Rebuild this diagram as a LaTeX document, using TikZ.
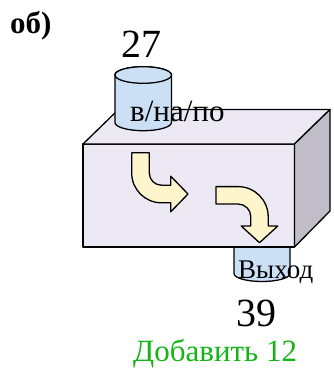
\documentclass[tikz,border=0pt]{standalone}
\usepackage{fontspec}
\setmainfont{Liberation Serif}
\usetikzlibrary{positioning}
\definecolor{boxfront}{RGB}{236,232,244}
\definecolor{boxside}{RGB}{192,188,200}
\definecolor{drumblue}{RGB}{204,224,245}
\definecolor{flowcream}{RGB}{255,245,204}
\definecolor{notegreen}{RGB}{20,180,20}
\tikzset{every node/.style={inner sep=0pt, align=center},
         face/.style={      % outline of every solid part
           draw, line width=1.3pt, line join=round},
         drum/.style={face, fill=drumblue},
         flow/.style={face, fill=flowcream},
         bignum/.style={font=\fontsize{40}{44}\selectfont},
         tag/.style={font=\fontsize{31}{34}\selectfont},
         smalltag/.style={font=\fontsize{27}{30}\selectfont}}

\begin{document}
\begin{tikzpicture}[x=1pt, y=-1pt]
  \useasboundingbox (0,0) rectangle (333,372);

  % output drum, partly hidden by the box
  \filldraw[drum] (234,240) -- (234,273.5)
    arc[start angle=180, end angle=0, x radius=28, y radius=8] -- (290,240);

  % the box
  \coordinate (ftl) at (83,144);
  \coordinate (ftr) at (294.5,144);
  \coordinate (fbr) at (294.5,247);
  \coordinate (btl) at (118.5,109.5);
  \coordinate (btr) at (330,109.5);
  \coordinate (bbr) at (330,211);
  \draw[face, fill=boxfront] (ftl) rectangle (fbr);
  \draw[face, fill=boxfront] (ftl) -- (btl) -- (btr) -- (ftr) -- cycle;
  \draw[face, fill=boxside] (ftr) -- (btr) -- (bbr) -- (fbr) -- cycle;

  % first bent arrow
  \draw[flow] (131.7,152.7) -- (131.7,173)
    arc[start angle=180, end angle=90, radius=29.8] -- (170.7,202.8)
    -- (170.7,211.8) -- (188,194) -- (170.7,176.2) -- (170.7,185.2)
    -- (161.5,185.2) arc[start angle=90, end angle=180, radius=12.2]
    -- (149.3,152.7) -- cycle;

  % second bent arrow
  \draw[flow] (216,186.6) -- (238,186.6)
    arc[start angle=270, end angle=360, radius=30.2] -- (268.2,226)
    -- (277.8,226) -- (259.5,242.7) -- (241.2,226) -- (250.8,226)
    -- (250.8,216.8) arc[start angle=0, end angle=-90, radius=12.8]
    -- (216,204) -- cycle;

  % input drum on top
  \draw[drum] (114.9,75) -- (114.9,122.4)
    arc[start angle=180, end angle=0, x radius=28.3, y radius=8.3]
    -- (171.5,75)
    arc[start angle=0, end angle=-180, x radius=28.3, y radius=8.3] -- cycle;
  \draw[drum] (143.2,75) ellipse[x radius=28.3, y radius=8.3];

  % texts
  \node[anchor=base west, font=\bfseries\fontsize{31}{34}\selectfont]
    (caption) at (10,33) {об)};
  \node[bignum, anchor=base] (countin) at (141,57.3) {27};
  \node[tag, anchor=base west] (inlabel) at (130,121.7) {в/на/по};
  \node[smalltag, anchor=base west] (outlabel) at (238,278.3) {Выход};
  \node[bignum, anchor=base] (countout) at (256,326) {39};
  \node[tag, anchor=base west, text=notegreen]
    (addnote) at (133,361.7) {Добавить 12};

\end{tikzpicture}
\end{document}
